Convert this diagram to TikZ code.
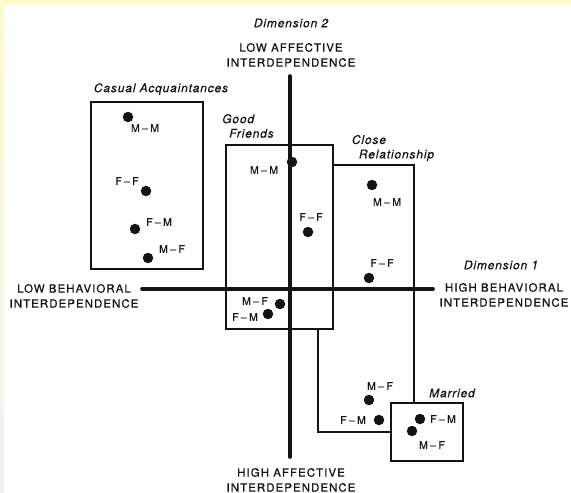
\documentclass[tikz,border=0pt]{standalone}
\usepackage{fontspec}
\usepackage{tikz}
\usetikzlibrary{positioning}
\newfontfamily\herosCaps[LetterSpace=9,FakeBold=0.6]{TeX Gyre Heros}
\newfontfamily\herosPair[LetterSpace=8,FakeBold=0.6]{TeX Gyre Heros}
\newfontfamily\herosItal[LetterSpace=7,FakeBold=0.4]{TeX Gyre Heros Italic}
\definecolor{paleyellow}{HTML}{FDFBCB}
\definecolor{lavender}{HTML}{F2F2F8}
\definecolor{ink}{HTML}{141414}

\begin{document}
\begin{tikzpicture}[
  x=1pt,y=-1pt,
  caps/.style={font={\herosCaps\fontsize{11.5}{15}\selectfont},align=center,text=ink,inner sep=0},
  pair/.style={font={\herosPair\fontsize{10.5}{12}\selectfont},text=ink,inner sep=0},
  ital/.style={font={\herosItal\fontsize{12}{14.5}\selectfont},text=ink,inner sep=0,align=left},
  dot/.style={circle,fill=ink,inner sep=0,minimum size=10.5},
  axis/.style={line width=3.6,line cap=round,draw=ink},
  region/.style={line width=1.1,draw=ink}
]
  \useasboundingbox (0,0) rectangle (571,493);
  % frame
  \fill[paleyellow] (0,0) rectangle (571,5);
  \shade[top color=paleyellow,bottom color=lavender] (0,5) rectangle (4,493);

  % axes
  \coordinate (vtop) at (290,76);
  \coordinate (vbot) at (290,457);
  \coordinate (hleft) at (142,289);
  \coordinate (hright) at (433,289);
  \draw[axis] (vtop) -- (vbot);
  \draw[axis] (hleft) -- (hright);

  % axis labels
  \node[ital] (dim2) at (291,23) {Dimension 2};
  \node[caps] (lowaff) at (291,55) {LOW AFFECTIVE\\INTERDEPENDENCE};
  \node[caps] (highaff) at (291,480) {HIGH AFFECTIVE\\INTERDEPENDENCE};
  \node[caps] (lowbeh) at (74,296) {LOW BEHAVIORAL\\INTERDEPENDENCE};
  \node[caps] (highbeh) at (504,295) {HIGH BEHAVIORAL\\INTERDEPENDENCE};
  \node[ital] (dim1) at (501,265) {Dimension 1};

  % regions
  \draw[region] (91,102) rectangle (203,269);
  \draw[region] (226,145) rectangle (333,329);
  \draw[region] (333,165) -- (414,165) -- (414,403);
  \draw[region] (318,329) -- (318,432) -- (391,432);
  \draw[region] (391,403) rectangle (463,461);

  % region labels
  \node[ital] (casual) at (161,89) {Casual Acquaintances};
  \node[ital,align=left] (good) at (248,126) {Good\\\hspace*{7pt}Friends};
  \node[ital,align=left] (close) at (393,148) {Close\\\hspace*{7pt}Relationship};
  \node[ital] (married) at (452,393) {Married};

  % casual acquaintances
  \node[dot] (caMM) at (128,117) {};
  \node[pair] (caMMl) at (145,128) {M\:\textendash\:M};
  \node[dot] (caFF) at (146,191) {};
  \node[pair] (caFFl) at (127,181) {F\:\textendash\:F};
  \node[dot] (caFM) at (135,229) {};
  \node[pair] (caFMl) at (159,222) {F\:\textendash\:M};
  \node[dot] (caMF) at (148,258) {};
  \node[pair] (caMFl) at (172,249) {M\:\textendash\:F};

  % good friends
  \node[dot] (gfMM) at (292,162) {};
  \node[pair] (gfMMl) at (264,170) {M\:\textendash\:M};
  \node[dot] (gfFF) at (308,232) {};
  \node[pair] (gfFFl) at (311,217) {F\:\textendash\:F};
  \node[dot] (gfMF) at (280,304) {};
  \node[pair] (gfMFl) at (255,301) {M\:\textendash\:F};
  \node[dot] (gfFM) at (268,314) {};
  \node[pair] (gfFMl) at (245,317) {F\:\textendash\:M};

  % close relationship
  \node[dot] (crMM) at (372,185) {};
  \node[pair] (crMMl) at (387,202) {M\:\textendash\:M};
  \node[dot] (crFF) at (369,278) {};
  \node[pair] (crFFl) at (382,263) {F\:\textendash\:F};
  \node[dot] (crMF) at (369,400) {};
  \node[pair] (crMFl) at (380,386) {M\:\textendash\:F};
  \node[dot] (crFM) at (379,420) {};
  \node[pair] (crFMl) at (353,420) {F\:\textendash\:M};

  % married
  \node[dot] (maFM) at (420,419) {};
  \node[pair] (maFMl) at (443,419) {F\:\textendash\:M};
  \node[dot] (maMF) at (412,431) {};
  \node[pair] (maMFl) at (432,445) {M\:\textendash\:F};
\end{tikzpicture}
\end{document}
